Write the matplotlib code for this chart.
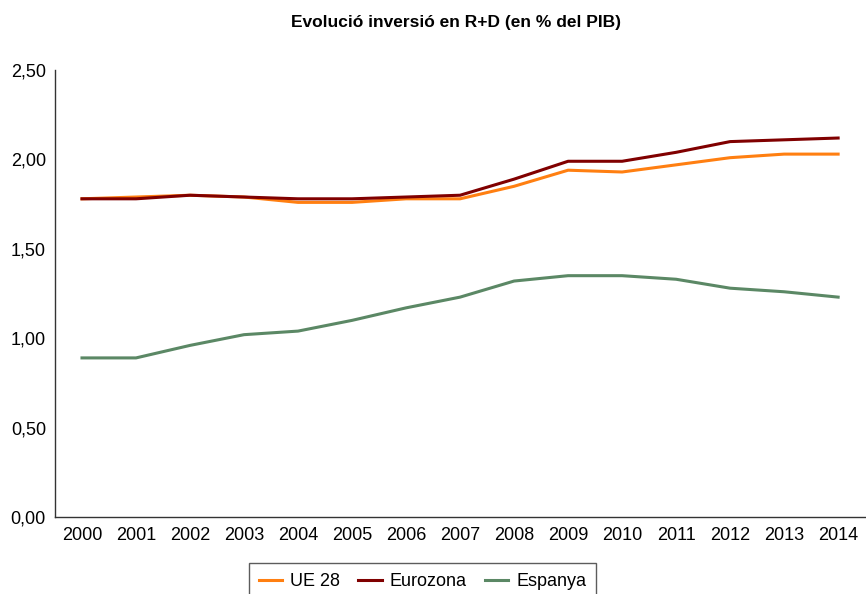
import matplotlib
matplotlib.use("Agg")
import matplotlib.pyplot as plt

years = [str(y) for y in range(2000, 2015)]
ue28 = [1.78, 1.79, 1.80, 1.79, 1.76, 1.76, 1.78, 1.78, 1.85, 1.94, 1.93, 1.97, 2.01, 2.03, 2.03]
eurozona = [1.78, 1.78, 1.80, 1.79, 1.78, 1.78, 1.79, 1.80, 1.89, 1.99, 1.99, 2.04, 2.10, 2.11, 2.12]
espanya = [0.89, 0.89, 0.96, 1.02, 1.04, 1.10, 1.17, 1.23, 1.32, 1.35, 1.35, 1.33, 1.28, 1.26, 1.23]
yticks = [0.0, 0.5, 1.0, 1.5, 2.0, 2.5]

plt.rcParams["font.family"] = ["Liberation Sans", "DejaVu Sans"]

fig = plt.figure(figsize=(8.66, 5.94), dpi=100)
ax = fig.add_axes([0.0635, 0.1296, 0.9355, 0.7524])

x = range(len(years))
ax.plot(x, ue28, color="#ff7f11", lw=2.2, label="UE 28", zorder=3)
ax.plot(x, eurozona, color="#800000", lw=2.2, label="Eurozona", zorder=4)
ax.plot(x, espanya, color="#5b8865", lw=2.2, label="Espanya", zorder=3)

ax.set_xlim(-0.5, len(years) - 0.5)
ax.set_ylim(0, 2.5)
ax.set_xticks(list(x))
ax.set_xticklabels(years)
ax.set_yticks(yticks)
ax.set_yticklabels([f"{v:.2f}".replace(".", ",") for v in yticks])
ax.tick_params(length=0, labelsize=13, colors="black")
ax.tick_params(axis="y", pad=6.5)
ax.tick_params(axis="x", pad=7)
for s in ("top", "right"):
    ax.spines[s].set_visible(False)
for s in ("left", "bottom"):
    ax.spines[s].set_color("#333333")
    ax.spines[s].set_linewidth(1.0)

fig.text(456 / 866, 1 - 22 / 594, "Evolució inversió en R+D (en % del PIB)",
         ha="center", va="center", fontsize=12.5, fontweight="bold")

leg = fig.legend(loc="upper center", bbox_to_anchor=(0.488, 1 - 563 / 594),
                 ncol=3, fontsize=13, frameon=True, fancybox=False,
                 handlelength=1.3, handletextpad=0.45, columnspacing=1.0,
                 borderpad=0.55, borderaxespad=0)
leg.get_frame().set_edgecolor("#333333")
leg.get_frame().set_linewidth(1.0)

fig.savefig("out.png", dpi=100)
